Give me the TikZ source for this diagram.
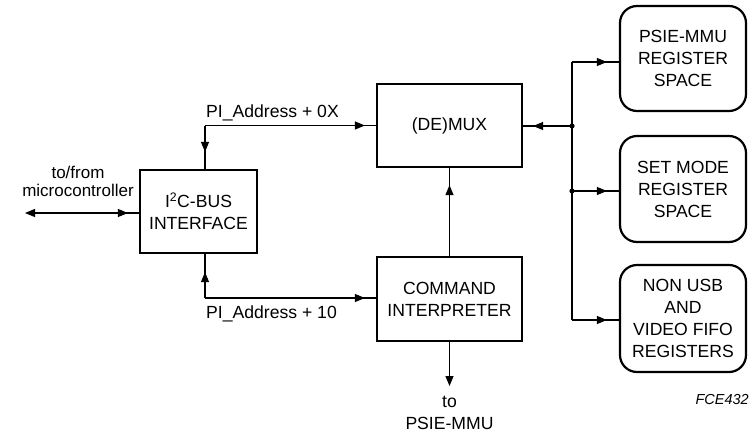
\documentclass[tikz,border=0pt]{standalone}
\usepackage{fontspec}
\setmainfont{Liberation Sans}
\usetikzlibrary{arrows.meta,decorations.markings}
\begin{document}
\begin{tikzpicture}[x=1pt,y=-1pt,
  font=\fontsize{17.6}{22}\selectfont,
  conn/.style={line width=1.1pt},
  tipat/.style={postaction={decorate},decoration={markings,
     mark=at position #1 with {\arrow{Triangle[length=10pt,width=8pt]}}}},
  blk/.style={draw,line width=2.2pt,align=center,inner sep=0pt},
  rblk/.style={blk,rounded corners=17pt}]
\useasboundingbox (0,0) rectangle (749,434);
% blocks
\node[blk,minimum width=117pt,minimum height=83pt] (i2c) at (198.5,211.5) {I\textsuperscript{2}C-BUS\\INTERFACE};
\node[blk,minimum width=145pt,minimum height=83pt] (demux) at (449.5,125.5) {(DE)MUX};
\node[blk,minimum width=145pt,minimum height=84pt] (ci) at (449.5,299) {COMMAND\\INTERPRETER};
\node[rblk,minimum width=126pt,minimum height=105pt] (p1) at (683,58.5) {PSIE-MMU\\REGISTER\\SPACE};
\node[rblk,minimum width=126pt,minimum height=106pt] (p2) at (683,189) {SET MODE\\REGISTER\\SPACE};
\node[rblk,minimum width=126pt,minimum height=107pt] (p3) at (683,318.5) {NON USB\\AND\\VIDEO FIFO\\REGISTERS};
% labels
\node[align=center,font=\fontsize{17}{18}\selectfont] (mctext) at (78,181) {to/from\\microcontroller};
\node[anchor=west,inner sep=0pt] (lab0x) at (206,112.5) {PI\_Address + 0X};
\node[anchor=west,inner sep=0pt] (lab10) at (206,314) {PI\_Address + 10};
\node[anchor=north,align=center,inner sep=0pt] (topsie) at (449.5,396) {to\\PSIE-MMU};
\node[anchor=east,inner sep=0pt,font=\fontsize{14.5}{16}\selectfont\itshape] (fce) at (749,400) {FCE432};
% coordinates
\coordinate (mc) at (25,213);
\coordinate (tl) at (205,125.5);
\coordinate (bl) at (205,298);
\coordinate (tp) at (449.5,386);
\coordinate (b0) at (572,62);
\coordinate (b1) at (572,126);
\coordinate (b2) at (572,191);
\coordinate (b3) at (572,320);
% connectors
\draw[conn,{Triangle[length=10pt,width=8pt]}-,tipat=-11pt] (mc) -- (mc -| i2c.west);
\draw[conn,tipat=-11pt] (tl) -- (demux.west);
\draw[conn,tipat=-17pt] (tl) -- (tl |- i2c.north);
\draw[conn,tipat=-11pt] (bl) -- (bl -| ci.west);
\draw[conn,tipat=-18pt] (bl) -- (bl |- i2c.south);
\draw[conn,tipat=-17pt] (ci.north) -- (demux.south);
\draw[conn,-{Triangle[length=10pt,width=8pt]}] (ci.south) -- (tp);
\draw[conn] (b0) -- (b3);
\draw[conn,tipat=-10pt] (b1) -- (b1 -| demux.east);
\draw[conn,tipat=-12pt] (b0) -- (b0 -| p1.west);
\draw[conn,tipat=-12pt] (b2) -- (b2 -| p2.west);
\draw[conn,tipat=-12pt] (b3) -- (b3 -| p3.west);
\fill (b1) circle (2.6pt);
\fill (b2) circle (2.6pt);
\end{tikzpicture}
\end{document}
